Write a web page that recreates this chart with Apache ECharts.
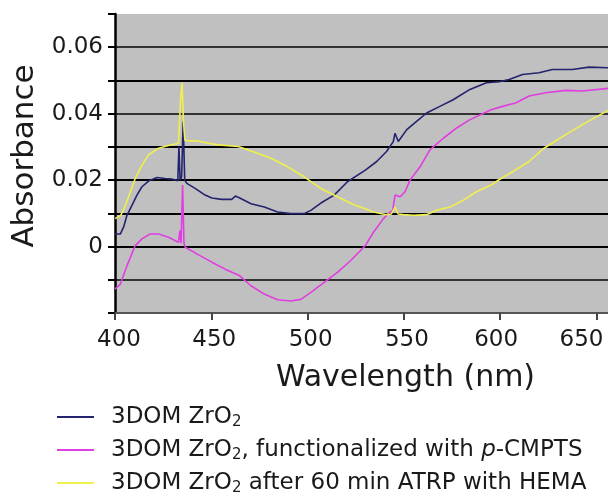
<!DOCTYPE html>
<html>
<head>
<meta charset="utf-8">
<script src="https://cdn.jsdelivr.net/npm/echarts@6/dist/echarts.min.js"></script>
<style>html,body{margin:0;padding:0;background:#fff;}#c{width:608px;height:496px;}</style>
</head>
<body>
<div id="c"></div>
<script>
// ---- data ----
const seriesNames = ['3DOM ZrO2', '3DOM ZrO2, functionalized with p-CMPTS', '3DOM ZrO2 after 60 min ATRP with HEMA'];
const xTicks = [400, 450, 500, 550, 600, 650];
const yTickLabels = ['0', '0.02', '0.04', '0.06'];

const navyX = [400,402.8,404.5,406.2,408.8,411.4,414,417.4,421.8,426,429.5,432.6,433.2,433.8,434.6,435.4,436.2,437.3,441.6,446.8,450.3,455.4,460.6,462.5,464.8,470.6,477.5,484.4,491.3,498.2,501.7,506.9,513.8,520.7,530,535.9,541,544.5,545.4,547.1,551.5,556.6,561.8,568.7,575.6,584.3,592.9,599.5,604.7,611.6,620.2,627.1,637.5,646.1,656];
const navyY = [0.0038,0.0038,0.0059,0.0094,0.0124,0.0155,0.018,0.0197,0.0208,0.0205,0.0203,0.0198,0.030,0.020,0.021,0.0377,0.020,0.019,0.0175,0.0155,0.0146,0.0142,0.0142,0.0152,0.0146,0.0129,0.0119,0.0104,0.0099,0.0099,0.0109,0.0131,0.0155,0.0195,0.023,0.0256,0.0286,0.0316,0.0341,0.0316,0.0352,0.0377,0.0402,0.0422,0.0442,0.0473,0.0493,0.0496,0.0503,0.0518,0.0523,0.0533,0.0533,0.054,0.0538];

const magX = [400,402.8,406.2,410.5,414,418.3,422.6,427.8,433,433.7,434.3,435.1,435.8,436.5,443.4,450.3,457.2,464.8,470.6,477.5,484.4,491.3,496.5,501.7,508.6,515.5,522.4,530,534.2,539.4,542.8,544.2,545.4,548,550.6,553.2,558.4,563.5,570.5,577.4,584.3,595.3,601.2,608,615,623.7,634,642.7,656];
const magY = [-0.0128,-0.0113,-0.0058,0.0003,0.0023,0.0038,0.0038,0.0028,0.0013,0.0048,0.001,0.0185,0.001,-0.0002,-0.0025,-0.0047,-0.0068,-0.0088,-0.0118,-0.0143,-0.016,-0.0164,-0.0159,-0.0138,-0.0108,-0.0078,-0.0042,0.0003,0.0043,0.0084,0.0104,0.0108,0.0155,0.015,0.0165,0.02,0.024,0.0291,0.0326,0.0357,0.0382,0.0412,0.0422,0.0432,0.0453,0.0463,0.047,0.0468,0.0476];

const yelX = [400,403,405.4,408,410.5,414,417.4,422.6,427.8,433,434,434.8,435.5,436.3,438,443,448.5,453.7,464,474,481,489.6,498.2,506.9,515.5,524,530,534.2,541,543.5,545.4,547,549.7,555,561.8,567,574,580.8,587.7,595.3,598.6,606.4,615,622.8,632.3,642.7,656];
const yelY = [0.0084,0.0094,0.0124,0.0165,0.0205,0.0245,0.0276,0.0296,0.0304,0.0311,0.044,0.0494,0.038,0.032,0.0318,0.0318,0.0311,0.0306,0.0301,0.0281,0.0266,0.024,0.021,0.0175,0.015,0.0126,0.0114,0.0104,0.0096,0.0098,0.0119,0.0098,0.0096,0.0094,0.0096,0.0109,0.0119,0.0139,0.0165,0.0185,0.0198,0.0225,0.0256,0.0296,0.0331,0.0367,0.041];

const colors = ['#23236e', '#e03ee0', '#f0f04c'];
const FONT = 'DejaVu Sans';

function pairs(xs, ys) { return xs.map((x, i) => [x, ys[i]]); }

const chart = echarts.init(document.getElementById('c'), null, {renderer: 'canvas'});

function legendFmt(name) {
  return name.replace(/ZrO2/g, 'ZrO{sub|2}').replace('p-CMPTS', '{it|p}-CMPTS');
}

// small horizontal nudges of the x tick labels (as placed in the reference)
const xLabelShift = {400: 4, 450: 3, 500: 3, 550: 3, 600: -4, 650: -15};
const xRich = {};
xTicks.forEach(t => {
  const d = xLabelShift[t] || 0;
  xRich['t' + t] = {
    fontFamily: FONT, fontSize: 23, color: '#1a1a1a',
    padding: d >= 0 ? [0, 0, 0, 2 * d] : [0, -2 * d, 0, 0]
  };
});

const option = {
  animation: false,
  backgroundColor: '#ffffff',
  grid: {
    left: 115, right: 0, top: 14, bottom: 183,
    outerBoundsMode: 'none',
    containLabel: false,
    show: true, backgroundColor: '#c0c0c0', borderWidth: 0
  },
  legend: {
    orient: 'vertical',
    left: 57, top: 404, height: 110,
    padding: 0,
    itemWidth: 37, itemHeight: 14, itemGap: 7,
    icon: 'path://M0,6 L37,6 L37,8 L0,8 Z',
    formatter: legendFmt,
    textStyle: {
      fontFamily: FONT, fontSize: 23, color: '#1a1a1a', lineHeight: 26,
      padding: [0, 0, 0, 12],
      rich: {
        sub: { fontFamily: FONT, fontSize: 15, color: '#1a1a1a', lineHeight: 26, verticalAlign: 'bottom' },
        it: { fontFamily: FONT, fontSize: 23, fontStyle: 'italic', color: '#1a1a1a', lineHeight: 26 }
      }
    },
    data: seriesNames
  },
  xAxis: {
    type: 'value',
    min: 400, max: 656, interval: 50,
    name: 'Wavelength (nm)',
    nameLocation: 'middle',
    nameGap: 50,
    nameTextStyle: { fontFamily: FONT, fontSize: 30, color: '#1a1a1a', padding: [0, 0, 0, 88] },
    axisLine: { show: true, onZero: false, lineStyle: { color: '#555', width: 2 } },
    axisTick: { show: true, length: 7, lineStyle: { color: '#444', width: 2 } },
    axisLabel: {
      fontFamily: FONT, fontSize: 23, color: '#1a1a1a', margin: 16,
      showMaxLabel: false,
      formatter: function (v) {
        const r = Math.round(v);
        return xTicks.indexOf(r) >= 0 ? '{t' + r + '|' + r + '}' : '';
      },
      rich: xRich
    },
    splitLine: { show: false }
  },
  yAxis: {
    type: 'value',
    min: -0.02, max: 0.07, interval: 0.01,
    name: 'Absorbance',
    nameLocation: 'middle',
    nameGap: 72,
    nameTextStyle: { fontFamily: FONT, fontSize: 31, color: '#1a1a1a', padding: [0, 0, 0, 15] },
    axisLine: { show: true, onZero: false, lineStyle: { color: '#000', width: 2.5 } },
    axisTick: { show: true, length: 7, lineStyle: { color: '#000', width: 2 } },
    axisLabel: {
      fontFamily: FONT, fontSize: 23, color: '#1a1a1a', margin: 12,
      formatter: function (v) {
        for (const s of yTickLabels) { if (Math.abs(parseFloat(s) - v) < 1e-9) return s; }
        return '';
      }
    },
    splitLine: {
      show: true,
      lineStyle: {
        width: 2,
        color: ['rgba(0,0,0,0)', '#333', '#000', '#000', '#000', '#000', '#333', '#000', '#333', 'rgba(0,0,0,0)']
      }
    }
  },
  series: [
    { name: seriesNames[0], type: 'line', data: pairs(navyX, navyY), symbol: 'none', color: colors[0], lineStyle: { width: 1.6, color: colors[0] } },
    { name: seriesNames[1], type: 'line', data: pairs(magX, magY), symbol: 'none', color: colors[1], lineStyle: { width: 1.6, color: colors[1] } },
    { name: seriesNames[2], type: 'line', data: pairs(yelX, yelY), symbol: 'none', color: colors[2], lineStyle: { width: 1.6, color: colors[2] } }
  ]
};
chart.setOption(option);
</script>
</body>
</html>
